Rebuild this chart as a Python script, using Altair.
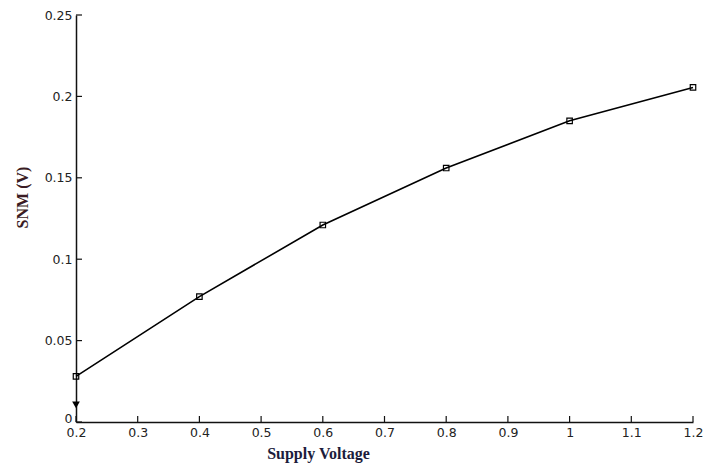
import altair as alt
import pandas as pd

voltage = [0.2, 0.4, 0.6, 0.8, 1.0, 1.2]
snm = [0.028, 0.077, 0.121, 0.156, 0.185, 0.2055]
extra_voltage = [0.2]
extra_snm = [0.0105]
x_ticks = [0.2, 0.3, 0.4, 0.5, 0.6, 0.7, 0.8, 0.9, 1.0, 1.1, 1.2]
y_ticks = [0, 0.05, 0.1, 0.15, 0.2, 0.25]

df = pd.DataFrame({"v": voltage, "snm": snm})
df_extra = pd.DataFrame({"v": extra_voltage, "snm": extra_snm})
df_xt = pd.DataFrame({"v": x_ticks})
df_yt = pd.DataFrame({"snm": y_ticks})

xs = alt.Scale(domain=[0.2, 1.2], nice=False, zero=False)
ys = alt.Scale(domain=[0, 0.25], nice=False)

W, H = 617, 407

x_axis = alt.Axis(values=x_ticks, format="~g", ticks=False, grid=False,
                  domainColor="#111", domainWidth=1.5, labelPadding=4, labelFlush=False,
                  labelFont="DejaVu Sans", labelFontSize=12.5, labelColor="#222",
                  title="Supply Voltage", titleFont="Liberation Serif", titleFontSize=16,
                  titleFontWeight="bold", titleColor="#1c1c3c", titleX=242, titleY=31,
                  titleAlign="center", titleBaseline="middle")
y_axis = alt.Axis(values=y_ticks, format="~g", ticks=False, grid=False,
                  domainColor="#111", domainWidth=1.5, labelPadding=4,
                  labelBaseline={"condition": {"test": "datum.value == 0", "value": "alphabetic"},
                                 "value": "middle"},
                  labelFont="DejaVu Sans", labelFontSize=12.5, labelColor="#222",
                  title="SNM (V)", titleFont="Liberation Serif", titleFontSize=16,
                  titleFontWeight="bold", titleColor="#3a1c24", titleX=-54, titleY=182,
                  titleAngle=270, titleAlign="center", titleBaseline="middle")

X = alt.X("v:Q", scale=xs, axis=x_axis)
Y = alt.Y("snm:Q", scale=ys, axis=y_axis)

line = alt.Chart(df).mark_line(color="black", strokeWidth=1.6).encode(x=X, y=Y)
pts = alt.Chart(df).mark_point(shape="square", filled=False, size=30, color="black",
                               strokeWidth=1.2, opacity=1).encode(x=X, y=Y)
extra = alt.Chart(df_extra).mark_point(shape="triangle-down", filled=True, size=60,
                                       color="black", opacity=1).encode(x=X, y=Y)
xticks = alt.Chart(df_xt).mark_rule(color="#111", strokeWidth=1.2).encode(
    x=X,
    y=alt.value(H),
    y2=alt.value(H - 6),
)
yticks = alt.Chart(df_yt).mark_rule(color="#111", strokeWidth=1.2).encode(
    y=Y,
    x=alt.value(0),
    x2=alt.value(6),
)

chart = alt.layer(line, pts, extra, xticks, yticks).properties(
    width=W, height=H,
    autosize=alt.AutoSizeParams(type="none"),
    padding={"left": 76, "top": 15, "right": 27, "bottom": 43},
    background="white",
).configure_view(stroke=None)

chart.save("out.html", embed_options={"renderer": "svg", "actions": False})
